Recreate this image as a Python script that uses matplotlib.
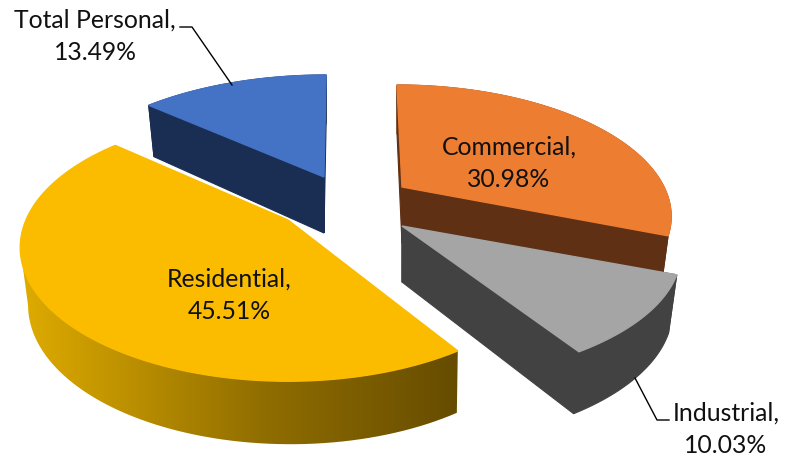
import matplotlib
matplotlib.use('Agg')
import matplotlib.pyplot as plt
import numpy as np
from matplotlib.patches import Polygon
from matplotlib.path import Path

plt.rcParams['font.family'] = ['Lato', 'DejaVu Sans']

labels = ['Commercial', 'Industrial', 'Residential', 'Total Personal']
shares = [30.98, 10.03, 45.51, 13.49]

top_colors = ['#ed7d31', '#a5a5a5', '#fbbc00', '#4472c4']
side_colors = ['#5f3014', '#424242', None, '#1a2d52']
# the slices are exploded and not quite the same shape, so each gets its own numbers (pixels)
apex_x = [402, 402, 288, 324]
apex_y = [187, 226, 220, 177]
rx = [262, 273, 262, 268]
ry = [123, 123, 128, 123]
shear = [0.05, 0.0, 0.0, -0.02]
shrink = [0.97, 0.97, 0.98, 0.97]
shrink_x = [401, 401, 410, 323]

PERSP = 0.206
DEPTH = 56

text_pos = [(509, 163), (726, 429), (229, 295), (95, 36)]
FS = 17.8

fig = plt.figure(figsize=(7.85, 4.58), dpi=100)
ax = fig.add_axes([0, 0, 1, 1])


def rim(i, theta):
    ux = np.sin(theta)
    uy = -np.cos(theta)
    s = 1 / (1 - PERSP * uy)
    dy = ry[i] * uy * s
    return apex_x[i] + rx[i] * ux * s + shear[i] * dy, apex_y[i] + dy, uy


def under(i, x, y, uy):
    return shrink_x[i] + (x - shrink_x[i]) * shrink[i], y + DEPTH + 7 * uy


start = 0.0
for i, share in enumerate(shares):
    end = start + share / 100 * 2 * np.pi
    theta = np.linspace(start, end, 200)
    cx, cy = apex_x[i], apex_y[i]
    xs, ys, uy = rim(i, theta)
    bx, by = under(i, xs, ys, uy)
    bax, bay = under(i, cx, cy, 0)
    z = i * 2 + 1

    if side_colors[i]:
        c = side_colors[i]
        for j in (0, -1):
            quad = [(cx, cy), (xs[j], ys[j]), (bx[j], by[j]), (bax, bay)]
            ax.add_patch(Polygon(quad, closed=True, fc=c, ec=c, lw=0.8, zorder=z))
        wall = list(zip(xs, ys)) + list(zip(bx[::-1], by[::-1]))
        ax.add_patch(Polygon(wall, closed=True, fc=c, ec=c, lw=0.8, zorder=z))
    else:
        # residential wall: light on the left to dark on the right
        # stop both rims at their leftmost point so the silhouette has a straight side
        j0 = np.argmin(xs)
        j1 = np.argmin(bx)
        wall = list(zip(xs[:j0 + 1], ys[:j0 + 1])) + list(zip(bx[j1::-1], by[j1::-1]))
        t = np.linspace(0, 1, 256)
        rgb = np.stack([np.interp(t, [0, 0.55, 1], [224, 145, 102]),
                        np.interp(t, [0, 0.55, 1], [172, 110, 76]),
                        np.zeros(256)], axis=-1)[None, ...] / 255
        im = ax.imshow(rgb, extent=(18, 459, 445, 200), aspect='auto', zorder=z, interpolation='bilinear')
        im.set_clip_path(Path(wall + [wall[0]]), transform=ax.transData)

    outline = [(cx, cy)] + list(zip(xs, ys))
    ax.add_patch(Polygon(outline, closed=True, fc=top_colors[i], ec=top_colors[i], lw=1.0, zorder=i * 2 + 2))
    start = end

ax.set_xlim(0, 785)
ax.set_ylim(458, 0)
ax.axis('off')

# leader lines
ax.plot([180, 192, 232], [27, 27, 85], color='black', lw=1, zorder=20)
ax.plot([635, 657, 669], [378, 420, 420], color='black', lw=1, zorder=20)

for i in range(len(labels)):
    ax.text(text_pos[i][0], text_pos[i][1], f'{labels[i]},\n{shares[i]:.2f}%', ha='center', va='center',
            fontsize=FS, color='#111111', linespacing=1.5, zorder=30)

fig.savefig('out.png', dpi=100)
